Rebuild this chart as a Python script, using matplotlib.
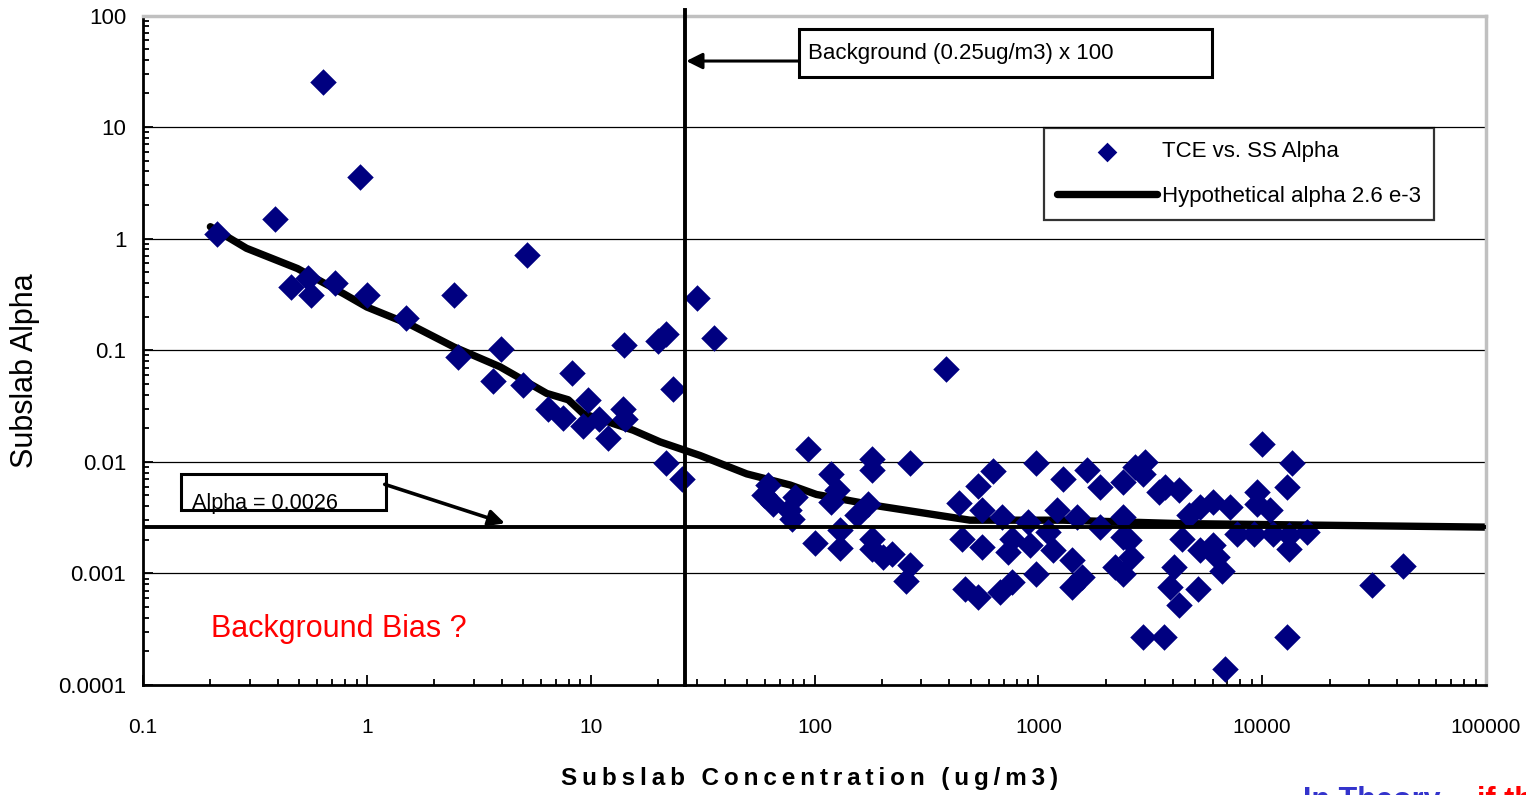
import matplotlib
matplotlib.use("Agg")
import matplotlib.pyplot as plt
import matplotlib.patches as patches
from matplotlib.ticker import FixedLocator, FixedFormatter, LogLocator, NullFormatter

plt.rcParams['font.family'] = ['Liberation Sans', 'DejaVu Sans']

# subslab concentration (ug/m3) vs. subslab alpha
conc = [0.638, 0.93, 0.39, 0.215, 5.2, 0.46, 0.545, 0.565, 0.718, 1.0,
        1.49, 2.44, 2.56, 3.98, 3.67, 5.0, 8.24, 6.43, 7.55, 9.7,
        9.27, 10.9, 11.9, 14.0, 14.2, 14.1, 19.9, 21.7, 23.3, 21.7,
        25.5, 29.8, 35.6, 386, 93.3, 180, 180, 267, 62.2, 59.2,
        65.5, 81.8, 79.2, 76.6, 119, 126, 119, 130, 101, 130,
        174, 155, 180, 180, 203, 221, 267, 256, 630, 540,
        440, 977, 1294, 1648, 1888, 2400, 560, 687, 903, 1210,
        1486, 1888, 455, 560, 735, 760, 918, 1167, 1109, 1413,
        1413, 1563, 977, 471, 540, 675, 760, 2200, 2400, 2400,
        2400, 9970, 13600, 3000, 2710, 2945, 3444, 3690, 4230, 4690,
        5290, 6060, 7190, 9460, 12880, 10860, 9460, 2530, 2600, 4375,
        5290, 6060, 6610, 6280, 7700, 9190, 11220, 13200, 13200, 15850,
        4020, 3880, 4230, 5190, 2945, 3650, 12950, 6840, 30900, 42400]
alpha = [25.2, 3.58, 1.51, 1.09, 0.71, 0.37, 0.44, 0.311, 0.40, 0.31,
         0.196, 0.31, 0.087, 0.103, 0.0527, 0.0492, 0.0625, 0.030, 0.0249, 0.0361,
         0.0208, 0.0244, 0.0165, 0.030, 0.0244, 0.112, 0.121, 0.141, 0.045, 0.00984,
         0.00707, 0.291, 0.128, 0.0685, 0.0131, 0.0105, 0.0084, 0.00975, 0.00615, 0.0050,
         0.00422, 0.00483, 0.00309, 0.00367, 0.00783, 0.00555, 0.00436, 0.00243, 0.00187, 0.00169,
         0.00422, 0.00331, 0.00205, 0.00167, 0.0014, 0.0015, 0.00118, 0.00085, 0.00826, 0.00603,
         0.00427, 0.00975, 0.00697, 0.0084, 0.00594, 0.00659, 0.00367, 0.0032, 0.00288, 0.00367,
         0.0032, 0.0026, 0.00205, 0.00172, 0.00155, 0.00205, 0.00178, 0.00161, 0.00235, 0.00131,
         0.00075, 0.00093, 0.00099, 0.00073, 0.00061, 0.00068, 0.00084, 0.00114, 0.00099, 0.00212,
         0.0032, 0.0144, 0.00975, 0.00995, 0.00898, 0.00783, 0.00536, 0.00594, 0.00555, 0.00331,
         0.00393, 0.00436, 0.00393, 0.00536, 0.00594, 0.00367, 0.00422, 0.00198, 0.0014, 0.00205,
         0.00161, 0.0018, 0.00106, 0.0014, 0.00227, 0.00227, 0.00227, 0.00167, 0.0022, 0.00235,
         0.00114, 0.00075, 0.000517, 0.00073, 0.000268, 0.000268, 0.000268, 0.00014, 0.00078, 0.00116]

# hypothetical alpha curve (2.6e-3 plus background effect)
hypo_x = [0.2, 0.29, 0.49, 0.79, 1.0, 1.58, 2.45, 3.94, 6.37, 7.94, 9.27,
          15.5, 20.4, 30.8, 49.8, 77.8, 102, 196, 495, 1290, 4160, 100000]
hypo_y = [1.28, 0.82, 0.54, 0.32, 0.244, 0.168, 0.107, 0.071, 0.041, 0.036, 0.027,
          0.0192, 0.0151, 0.0114, 0.0078, 0.0062, 0.0051, 0.0040, 0.0030, 0.0030, 0.0028, 0.0026]

alpha_line = 0.0026      # horizontal reference
background_x = 26.5      # vertical line, background x 100

xticks = [0.1, 1, 10, 100, 1000, 10000, 100000]
xtick_labels = ['0.1', '1', '10', '100', '1000', '10000', '100000']
yticks = [0.0001, 0.001, 0.01, 0.1, 1, 10, 100]
ytick_labels = ['0.0001', '0.001', '0.01', '0.1', '1', '10', '100']

W, H = 1526, 795
fig = plt.figure(figsize=(W / 100, H / 100), dpi=100)
ax = fig.add_axes([143 / W, 1 - 685 / H, 1343 / W, 669.5 / H])

ax.set_xscale('log')
ax.set_yscale('log')
ax.set_xlim(0.1, 100000)
ax.set_ylim(0.0001, 100)

# gridlines
for yv in yticks[1:-1]:
    ax.axhline(yv, color='black', lw=0.9, zorder=1)

curve, = ax.plot(hypo_x, hypo_y, color='black', lw=5.3, solid_capstyle='round',
                 zorder=2, label='Hypothetical alpha 2.6 e-3')
pts = ax.scatter(conc, alpha, marker='D', s=13.5 ** 2, color='#000080',
                 linewidths=0, zorder=3, label='TCE vs. SS Alpha')

ax.axhline(alpha_line, color='black', lw=2.8, zorder=4)
ax.plot([background_x, background_x], [0, 1.008], color='black', lw=2.8,
        transform=ax.get_xaxis_transform(), clip_on=False, zorder=4)

# axes styling
ax.spines['left'].set_color('black')
ax.spines['bottom'].set_color('black')
ax.spines['left'].set_linewidth(2)
ax.spines['bottom'].set_linewidth(2)
for s in ['top', 'right']:
    ax.spines[s].set_color('#C0C0C0')
    ax.spines[s].set_linewidth(2.5)

ax.xaxis.set_major_locator(FixedLocator(xticks))
ax.xaxis.set_major_formatter(FixedFormatter(xtick_labels))
ax.yaxis.set_major_locator(FixedLocator(yticks))
ax.yaxis.set_major_formatter(FixedFormatter(ytick_labels))
ax.xaxis.set_minor_locator(LogLocator(base=10, subs=range(2, 10), numticks=20))
ax.yaxis.set_minor_locator(LogLocator(base=10, subs=range(2, 10), numticks=20))
ax.xaxis.set_minor_formatter(NullFormatter())
ax.yaxis.set_minor_formatter(NullFormatter())
ax.tick_params(which='both', direction='in', width=1.3)
ax.tick_params(axis='x', labelsize=15)
ax.tick_params(axis='y', labelsize=16)
ax.tick_params(which='major', length=7)
ax.tick_params(which='minor', length=4)
ax.tick_params(axis='x', which='major', pad=24)
ax.tick_params(axis='y', which='major', pad=12)

ax.set_xlabel('\u2009'.join('Subslab Concentration (ug/m3)'),
              fontsize=17.5, fontweight='bold')
ax.xaxis.set_label_coords(0.496, -0.122)
ax.set_ylabel('Subslab Alpha', fontsize=22)
ax.yaxis.set_label_coords(-0.077, 0.47)

# background annotation box
bg_box = patches.Rectangle((0.4885, 0.908), 0.3075, 0.072, transform=ax.transAxes,
                           facecolor='white', edgecolor='black', lw=2.2,
                           zorder=5, clip_on=False)
ax.add_patch(bg_box)
ax.text(0.4952, 0.943, 'Background (0.25ug/m3) x 100', transform=ax.transAxes,
        fontsize=16, va='center', ha='left', zorder=6)
ax.annotate('', xy=(0.4045, 0.932), xytext=(0.4885, 0.932),
            xycoords='axes fraction', textcoords='axes fraction',
            arrowprops=dict(arrowstyle='-|>', lw=2.2, color='black',
                            mutation_scale=24, shrinkA=0, shrinkB=0), zorder=6)

# alpha annotation box
a_box = patches.Rectangle((0.0283, 0.2614), 0.1529, 0.0533, transform=ax.transAxes,
                          facecolor='white', edgecolor='black', lw=2.2, zorder=5)
ax.add_patch(a_box)
t = ax.text(0.0365, 0.2625, 'Alpha = 0.0026', transform=ax.transAxes,
            fontsize=15.5, va='baseline', ha='left', zorder=6)
t.set_clip_path(a_box)
ax.annotate('', xy=(0.2695, 0.2415), xytext=(0.1800, 0.2997),
            xycoords='axes fraction', textcoords='axes fraction',
            arrowprops=dict(arrowstyle='-|>', lw=2.6, color='black',
                            mutation_scale=24, shrinkA=0, shrinkB=0), zorder=6)

ax.text(0.0506, 0.0836, 'Background Bias ?', transform=ax.transAxes,
        fontsize=22, color='#FF0000', va='center', ha='left')

leg = ax.legend(handles=[pts, curve],
                loc='upper left', bbox_to_anchor=(1044 / W, 1 - 128 / H),
                bbox_transform=fig.transFigure, borderaxespad=0,
                fontsize=16, frameon=True, fancybox=False, markerscale=0.74,
                scatterpoints=1, handlelength=4.5, handletextpad=0.2,
                borderpad=0.6, labelspacing=1.05)
leg.get_frame().set_edgecolor('black')
leg.get_frame().set_linewidth(1.6)
leg.set_zorder(7)

# cut-off note at the bottom edge (cropped in the original too)
fig.text(1303 / W, 1 - 786 / H, 'In Theory,', fontsize=22, fontweight='bold',
         color='#3333CC', va='top', ha='left')
fig.text(1477 / W, 1 - 786 / H, 'if the', fontsize=22, fontweight='bold',
         color='#FF0000', va='top', ha='left')

fig.savefig('out.png', dpi=100)
